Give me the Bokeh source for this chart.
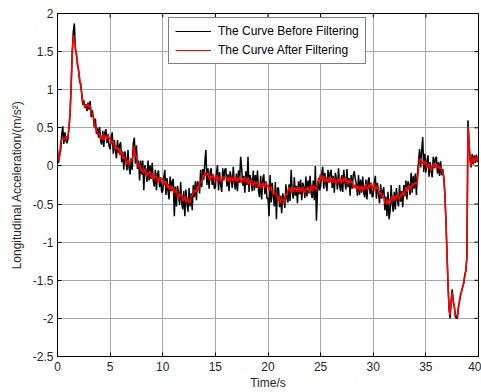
import numpy as np
from bokeh.plotting import figure
from bokeh.models import FixedTicker, Legend, LegendItem, Range1d
from bokeh.embed import file_html
from bokeh.resources import INLINE

time_step = 0.1

before_filtering = [
    0.22, 0.04, 0.15, 0.20, 0.41, 0.52, 0.29, 0.44, 0.33, 0.30,
    0.36, 0.53, 0.69, 1.08, 1.50, 1.76, 1.87, 1.52, 1.48, 1.32,
    1.27, 1.10, 1.09, 0.94, 0.80, 0.86, 0.76, 0.81, 0.72, 0.83,
    0.74, 0.85, 0.64, 0.73, 0.65, 0.51, 0.62, 0.42, 0.50, 0.37,
    0.51, 0.32, 0.28, 0.46, 0.25, 0.44, 0.48, 0.30, 0.41, 0.26,
    0.22, 0.37, 0.44, 0.16, 0.34, 0.21, 0.10, 0.34, 0.17, 0.27,
    0.31, 0.05, 0.19, -0.05, 0.19, 0.09, -0.06, 0.21, -0.02, -0.11,
    0.10, -0.05, 0.30, 0.37, 0.03, 0.27, -0.04, 0.07, -0.19, 0.07,
    -0.11, 0.07, -0.32, 0.01, -0.06, -0.21, 0.07, -0.19, 0.01, -0.17,
    0.04, -0.20, -0.27, -0.05, -0.32, -0.10, -0.06, -0.28, -0.15, -0.35,
    -0.33, -0.15, -0.05, -0.38, -0.16, -0.33, -0.44, -0.14, -0.33, -0.20,
    -0.17, -0.66, -0.27, -0.53, -0.26, -0.36, -0.51, -0.21, -0.48, -0.57,
    -0.33, -0.66, -0.31, -0.49, -0.60, -0.29, -0.53, -0.36, -0.58, -0.25,
    -0.41, -0.20, -0.45, -0.20, -0.24, -0.36, -0.05, -0.28, -0.04, -0.18,
    0.05, 0.21, -0.25, -0.03, -0.30, -0.08, -0.03, -0.25, -0.11, -0.30,
    -0.28, -0.10, 0.01, -0.32, -0.08, -0.24, -0.34, -0.03, -0.19, -0.05,
    -0.03, -0.27, -0.11, -0.33, -0.07, -0.15, -0.29, -0.01, -0.23, -0.31,
    -0.10, -0.33, -0.06, -0.22, 0.12, -0.03, -0.26, -0.13, -0.35, -0.07,
    -0.25, 0.12, -0.34, -0.12, -0.19, -0.33, -0.06, -0.32, -0.12, -0.29,
    -0.06, -0.33, -0.41, -0.13, -0.44, -0.17, -0.11, -0.37, -0.20, -0.43,
    -0.42, -0.66, -0.12, -0.48, -0.22, -0.40, -0.53, -0.21, -0.70, -0.29,
    -0.29, -0.54, -0.39, -0.62, -0.36, -0.43, -0.55, -0.24, -0.43, -0.48,
    -0.24, -0.46, -0.05, -0.34, -0.43, -0.15, -0.39, -0.26, -0.49, -0.20,
    -0.37, -0.18, -0.45, -0.22, -0.28, -0.42, -0.14, -0.40, -0.19, -0.36,
    -0.13, -0.36, -0.42, -0.19, -0.45, 0.00, -0.72, -0.34, -0.16, -0.32,
    -0.27, -0.10, -0.01, -0.30, -0.09, -0.23, -0.33, -0.05, -0.22, -0.09,
    -0.05, -0.29, -0.13, -0.35, -0.09, -0.17, -0.31, -0.03, -0.25, -0.33,
    -0.12, -0.34, -0.05, -0.21, -0.31, -0.04, -0.28, -0.16, -0.39, -0.12,
    -0.30, -0.12, -0.07, -0.18, -0.24, -0.39, -0.12, -0.38, -0.18, -0.35,
    -0.14, -0.36, -0.41, -0.18, -0.44, -0.20, -0.15, -0.37, -0.22, -0.41,
    -0.38, -0.22, -0.13, -0.43, -0.22, -0.37, -0.49, -0.24, -0.43, -0.33,
    -0.28, -0.58, -0.40, -0.66, -0.34, -0.70, -0.59, -0.25, -0.50, -0.60,
    -0.34, -0.57, -0.29, -0.45, -0.53, -0.25, -0.47, -0.33, -0.54, -0.25,
    -0.40, -0.19, -0.44, -0.20, -0.25, -0.38, -0.09, -0.35, -0.13, -0.30,
    -0.10, -0.38, -0.10, 0.05, 0.22, -0.02, 0.20, 0.38, -0.08, 0.16,
    -0.09, 0.06, 0.14, -0.14, 0.05, -0.07, -0.15, 0.12, -0.03, 0.10,
    0.12, -0.10, 0.05, -0.13, 0.06, -0.12, -0.04, -0.16, -0.36, -0.70,
    -1.12, -1.55, -1.88, -2.00, -1.78, -1.62, -1.78, -1.84, -1.98, -2.00,
    -1.99, -1.84, -1.78, -1.68, -1.64, -1.58, -1.54, -1.42, -1.38, -1.18,
    0.60, 0.32, 0.08, -0.02, 0.16, 0.02, 0.14, 0.04, 0.15, 0.05, 0.10,
]

after_filtering = [
    0.16, 0.07, 0.13, 0.31, 0.35, 0.35, 0.36, 0.35, 0.39, 0.35,
    0.40, 0.50, 0.72, 1.05, 1.45, 1.72, 1.66, 1.56, 1.44, 1.36,
    1.24, 1.16, 1.04, 0.96, 0.85, 0.81, 0.77, 0.80, 0.78, 0.81,
    0.77, 0.80, 0.69, 0.69, 0.65, 0.57, 0.49, 0.49, 0.43, 0.41,
    0.42, 0.37, 0.35, 0.41, 0.34, 0.40, 0.39, 0.35, 0.42, 0.36,
    0.36, 0.29, 0.31, 0.33, 0.25, 0.22, 0.26, 0.21, 0.24, 0.15,
    0.15, 0.19, 0.09, 0.12, 0.12, 0.05, 0.02, 0.08, 0.04, 0.05,
    0.06, 0.09, 0.15, 0.27, 0.12, 0.14, 0.05, -0.01, 0.02, -0.06,
    -0.02, -0.09, -0.06, -0.04, -0.11, -0.14, -0.08, -0.11, -0.07, -0.15,
    -0.14, -0.09, -0.18, -0.14, -0.13, -0.19, -0.22, -0.15, -0.19, -0.18,
    -0.16, -0.22, -0.25, -0.20, -0.29, -0.24, -0.26, -0.31, -0.26, -0.33,
    -0.29, -0.36, -0.33, -0.31, -0.39, -0.42, -0.36, -0.40, -0.37, -0.45,
    -0.44, -0.39, -0.48, -0.44, -0.43, -0.48, -0.48, -0.39, -0.39, -0.35,
    -0.31, -0.34, -0.34, -0.26, -0.31, -0.23, -0.21, -0.22, -0.12, -0.15,
    -0.08, -0.13, -0.11, -0.09, -0.16, -0.19, -0.13, -0.16, -0.11, -0.18,
    -0.17, -0.12, -0.20, -0.16, -0.14, -0.19, -0.21, -0.14, -0.16, -0.14,
    -0.13, -0.18, -0.20, -0.14, -0.21, -0.15, -0.16, -0.20, -0.13, -0.19,
    -0.15, -0.21, -0.17, -0.14, -0.20, -0.22, -0.16, -0.19, -0.14, -0.21,
    -0.21, -0.15, -0.24, -0.20, -0.19, -0.24, -0.27, -0.20, -0.24, -0.22,
    -0.21, -0.26, -0.28, -0.22, -0.29, -0.23, -0.24, -0.28, -0.21, -0.27,
    -0.25, -0.32, -0.29, -0.27, -0.34, -0.37, -0.33, -0.38, -0.36, -0.44,
    -0.45, -0.40, -0.49, -0.45, -0.43, -0.47, -0.47, -0.37, -0.37, -0.32,
    -0.28, -0.32, -0.34, -0.27, -0.34, -0.28, -0.30, -0.34, -0.28, -0.33,
    -0.28, -0.34, -0.30, -0.27, -0.33, -0.35, -0.29, -0.32, -0.27, -0.34,
    -0.31, -0.25, -0.33, -0.28, -0.26, -0.30, -0.31, -0.21, -0.20, -0.15,
    -0.11, -0.16, -0.19, -0.13, -0.21, -0.15, -0.17, -0.21, -0.15, -0.21,
    -0.16, -0.22, -0.18, -0.15, -0.21, -0.23, -0.17, -0.20, -0.15, -0.22,
    -0.22, -0.15, -0.21, -0.16, -0.15, -0.21, -0.24, -0.18, -0.22, -0.21,
    -0.20, -0.26, -0.29, -0.24, -0.31, -0.26, -0.28, -0.32, -0.26, -0.32,
    -0.27, -0.32, -0.27, -0.24, -0.30, -0.31, -0.25, -0.28, -0.22, -0.29,
    -0.28, -0.23, -0.32, -0.28, -0.27, -0.33, -0.38, -0.34, -0.40, -0.41,
    -0.41, -0.47, -0.50, -0.44, -0.50, -0.44, -0.44, -0.47, -0.39, -0.45,
    -0.39, -0.45, -0.40, -0.37, -0.42, -0.44, -0.37, -0.39, -0.33, -0.39,
    -0.36, -0.28, -0.34, -0.28, -0.25, -0.29, -0.30, -0.23, -0.25, -0.23,
    -0.22, -0.24, -0.20, -0.03, 0.08, 0.10, 0.06, 0.03, 0.07, 0.02,
    0.05, -0.02, 0.01, 0.03, -0.04, -0.06, 0.01, -0.01, 0.04, -0.02,
    0.02, -0.02, 0.01, -0.04, -0.01, -0.06, -0.08, -0.14, -0.35, -0.68,
    -1.12, -1.52, -1.85, -1.96, -1.78, -1.66, -1.76, -1.84, -1.94, -1.98,
    -1.96, -1.86, -1.76, -1.70, -1.63, -1.59, -1.52, -1.45, -1.36, -1.20,
    0.52, 0.30, 0.06, 0.00, 0.12, 0.05, 0.11, 0.06, 0.12, 0.07, 0.09,
]

x_ticks = [0, 5, 10, 15, 20, 25, 30, 35, 40]
x_tick_labels = ["0", "5", "10", "15", "20", "25", "30", "35", "40"]
y_ticks = [-2.5, -2, -1.5, -1, -0.5, 0, 0.5, 1, 1.5, 2]
y_tick_labels = ["-2.5", "-2", "-1.5", "-1", "-0.5", "0", "0.5", "1", "1.5", "2"]

legend_labels = ["The Curve Before Filtering", "The Curve After Filtering"]
x_label = "Time/s"
y_label = "Longitudinal Acceleration/(m/s\u00b2)"

# ---- figure ----
FONT = "Liberation Sans"
t_before = np.arange(len(before_filtering)) * time_step
t_after = np.arange(len(after_filtering)) * time_step

p = figure(width=481, height=392, output_backend="svg", toolbar_location=None,
           x_range=Range1d(x_ticks[0], x_ticks[-1]), y_range=Range1d(y_ticks[0], y_ticks[-1]),
           min_border_left=57, min_border_right=3, min_border_top=13,
           min_border_bottom=35)
p.background_fill_color = "white"
p.border_fill_color = "white"
p.outline_line_color = "black"
p.outline_line_width = 1

p.xgrid.ticker = FixedTicker(ticks=x_ticks)
p.ygrid.ticker = FixedTicker(ticks=y_ticks)
p.grid.grid_line_color = "#a8a8a8"
p.grid.grid_line_width = 1

r_before = p.line(t_before, before_filtering, line_color="black", line_width=1.5)
r_after = p.line(t_after, after_filtering, line_color="#ff0000", line_width=1.6)

# thin samples for the legend, as in the reference (no visible data)
l_before = p.line([np.nan], [np.nan], line_color="black", line_width=1)
l_after = p.line([np.nan], [np.nan], line_color="#ff0000", line_width=1)

for ax, ticks, labels in ((p.xaxis[0], x_ticks, x_tick_labels),
                          (p.yaxis[0], y_ticks, y_tick_labels)):
    ax.ticker = FixedTicker(ticks=ticks)
    ax.major_label_overrides = {t: l for t, l in zip(ticks, labels)}
    ax.major_tick_in = 4
    ax.major_tick_out = 0
    ax.minor_tick_line_color = None
    ax.axis_line_color = "black"
    ax.major_tick_line_color = "black"
    ax.major_label_text_font = FONT
    ax.major_label_text_font_size = "12px"
    ax.major_label_text_color = "#262626"
    ax.axis_label_text_font = FONT
    ax.axis_label_text_font_size = "12px"
    ax.axis_label_text_font_style = "normal"
    ax.axis_label_text_color = "#262626"

p.xaxis[0].axis_label = x_label
p.yaxis[0].axis_label = y_label
p.xaxis[0].major_label_standoff = 5
p.xaxis[0].axis_label_standoff = 2
p.yaxis[0].major_label_standoff = 4
p.yaxis[0].axis_label_standoff = 6

# inward ticks on the top and right edges of the box
p.scatter(x=x_ticks, y=[y_ticks[-1]] * len(x_ticks), marker="dash", size=8,
          angle=np.pi / 2, line_color="black", line_width=1)
p.scatter(x=[x_ticks[-1]] * len(y_ticks), y=y_ticks, marker="dash", size=8,
          line_color="black", line_width=1)

legend = Legend(items=[LegendItem(label=legend_labels[0], renderers=[l_before]),
                       LegendItem(label=legend_labels[1], renderers=[l_after])],
                location=(111, 292), margin=0, padding=6, spacing=5,
                glyph_width=36, glyph_height=14, label_height=14, label_standoff=7,
                label_text_font=FONT, label_text_font_size="12px",
                label_text_color="black",
                border_line_color="black", border_line_width=1,
                background_fill_color="white", background_fill_alpha=1)
p.add_layout(legend, "center")

open("out.html", "w").write(file_html(p, INLINE))
